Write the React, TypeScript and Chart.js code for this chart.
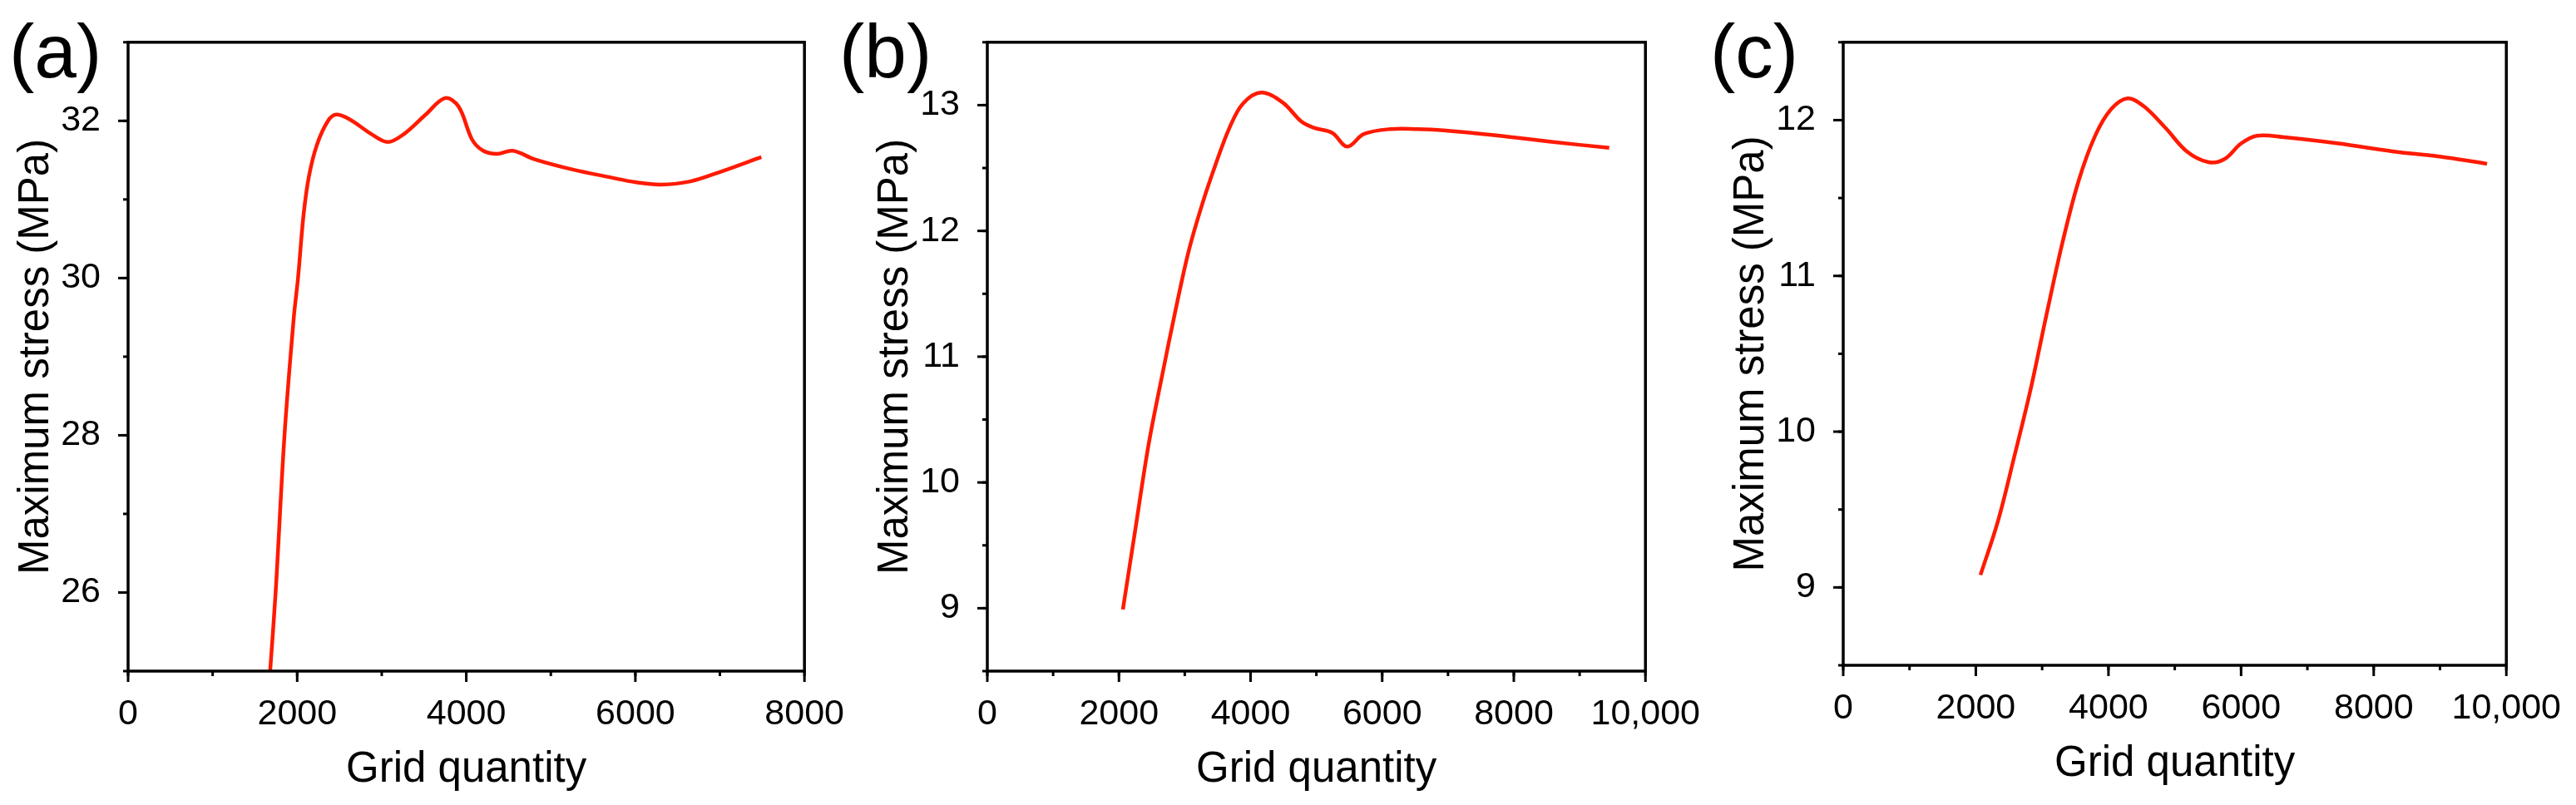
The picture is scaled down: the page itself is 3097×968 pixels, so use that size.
import { useEffect, useRef } from 'react'
import Chart from 'chart.js/auto'

// (a) grid quantity vs maximum stress
const gridA = [1680, 1745, 1850, 1960, 2010, 2075, 2140, 2235, 2365, 2460, 2620, 2880, 3070, 3260, 3520, 3750, 3910, 4070, 4200, 4360, 4550, 4810, 5260, 5710, 6000, 6300, 6650, 7000, 7490]
const stressA = [25.0, 26.0, 28.0, 29.5, 30.0, 30.8, 31.3, 31.7, 32.0, 32.08, 32.02, 31.83, 31.73, 31.83, 32.08, 32.29, 32.18, 31.76, 31.62, 31.58, 31.62, 31.51, 31.38, 31.28, 31.22, 31.19, 31.23, 31.35, 31.54]

// (b)
const gridB = [2060, 2250, 2450, 2660, 2860, 3060, 3270, 3470, 3680, 3880, 4160, 4490, 4770, 4960, 5240, 5470, 5720, 6130, 6530, 6930, 7730, 8540, 9450]
const stressB = [8.99, 9.63, 10.3, 10.86, 11.37, 11.84, 12.22, 12.53, 12.82, 13.01, 13.1, 13.02, 12.87, 12.82, 12.78, 12.67, 12.77, 12.81, 12.81, 12.8, 12.76, 12.71, 12.66]

// (c)
const gridC = [2070, 2330, 2580, 2820, 3060, 3310, 3550, 3800, 4040, 4290, 4530, 4860, 5180, 5510, 5750, 6000, 6240, 6650, 7470, 8280, 9100, 9710]
const stressC = [9.08, 9.42, 9.84, 10.26, 10.74, 11.22, 11.61, 11.9, 12.07, 12.14, 12.09, 11.95, 11.8, 11.73, 11.75, 11.85, 11.9, 11.89, 11.85, 11.8, 11.76, 11.72]

const xTicksA = [0, 2000, 4000, 6000, 8000]
const xTicksBC = [0, 2000, 4000, 6000, 8000, 10000]
const yTicksA = [26, 28, 30, 32]
const yTicksB = [9, 10, 11, 12, 13]
const yTicksC = [9, 10, 11, 12]

const FONT = '"Liberation Sans", Arial, sans-serif'
const RED = '#ff1a00'

const framePlugin = {
  id: 'frame',
  afterDraw(chart: any) {
    const { ctx, chartArea: a, scales } = chart
    const o = chart.options.plugins.frame
    ctx.save()
    ctx.strokeStyle = '#000'
    ctx.lineWidth = 3
    const xs = scales.x
    const ys = scales.y
    const tick = (v: number, len: number, horiz: boolean) => {
      ctx.beginPath()
      if (horiz) {
        const px = xs.getPixelForValue(v)
        ctx.moveTo(px, a.bottom)
        ctx.lineTo(px, a.bottom + len)
      } else {
        const py = ys.getPixelForValue(v)
        ctx.moveTo(a.left, py)
        ctx.lineTo(a.left - len, py)
      }
      ctx.stroke()
    }
    for (let v = xs.min; v <= xs.max + 1e-6; v += o.xMinor) tick(v, 6, true)
    for (let v = ys.min; v <= ys.max + 1e-6; v += o.yMinor) tick(v, 6, false)
    xs.ticks.forEach((t: any) => tick(t.value, 13, true))
    ys.ticks.forEach((t: any) => tick(t.value, 12, false))
    ctx.lineWidth = 3.5
    ctx.strokeRect(a.left, a.top, a.right - a.left, a.bottom - a.top)
    ctx.restore()
  }
}

interface PanelProps {
  left: number
  width: number
  plotTop: number
  plotRight: number
  plotBottom: number
  xs: number[]
  ys: number[]
  xMax: number
  xTicks: number[]
  yMin: number
  yMax: number
  yTicks: number[]
  yMinor: number
  label: string
  labelLeft: number
}

function Panel(p: PanelProps) {
  const ref = useRef<HTMLCanvasElement>(null)
  const height = p.plotBottom + 161

  useEffect(() => {
    if (!ref.current) return
    const chart = new Chart(ref.current, {
      type: 'line',
      data: {
        datasets: [
          {
            data: p.xs.map((x, i) => ({ x, y: p.ys[i] })),
            borderColor: RED,
            borderWidth: 4.5,
            pointRadius: 0,
            tension: 0.35,
            fill: false,
          },
        ],
      },
      options: {
        responsive: false,
        animation: false,
        devicePixelRatio: 1,
        layout: {
          padding: { left: 0, top: p.plotTop, right: p.width - (p.plotRight - p.left), bottom: 0 },
        },
        plugins: {
          legend: { display: false },
          tooltip: { enabled: false },
          frame: { xMinor: 1000, yMinor: p.yMinor },
        } as any,
        scales: {
          x: {
            type: 'linear',
            min: 0,
            max: p.xMax,
            grid: { display: false },
            border: { display: false },
            afterBuildTicks: (s: any) => {
              s.ticks = p.xTicks.map(v => ({ value: v }))
            },
            afterFit: (s: any) => {
              s.height = height - p.plotBottom
            },
            ticks: {
              color: '#000',
              padding: 18,
              maxRotation: 0,
              autoSkip: false,
              font: { family: FONT, size: 43 },
              callback: (v: any) => (v === 10000 ? '10,000' : String(v)),
            },
            title: {
              display: true,
              text: 'Grid quantity',
              color: '#000',
              font: { family: FONT, size: 51, lineHeight: 1 },
              padding: { top: 0, bottom: 17 },
            },
          },
          y: {
            type: 'linear',
            min: p.yMin,
            max: p.yMax,
            grid: { display: false },
            border: { display: false },
            afterBuildTicks: (s: any) => {
              s.ticks = p.yTicks.map(v => ({ value: v }))
            },
            afterFit: (s: any) => {
              s.width = 154
            },
            ticks: {
              color: '#000',
              padding: 25,
              autoSkip: false,
              font: { family: FONT, size: 43 },
              callback: (v: any) => String(v),
            },
            title: {
              display: true,
              text: 'Maximum stress (MPa)',
              color: '#000',
              font: { family: FONT, size: 51, lineHeight: 1 },
              padding: { top: 18, bottom: 0 },
            },
          },
        },
      },
      plugins: [framePlugin],
    })
    return () => chart.destroy()
  }, [])

  return (
    <>
      <canvas
        ref={ref}
        width={p.width}
        height={height}
        style={{ position: 'absolute', left: p.left, top: 0, width: p.width, height }}
      />
      <div
        style={{
          position: 'absolute',
          left: p.labelLeft,
          top: 16,
          fontFamily: FONT,
          fontSize: 91,
          lineHeight: 1,
          color: '#000',
          whiteSpace: 'nowrap',
        }}
      >
        {p.label}
      </div>
    </>
  )
}

export default function App() {
  return (
    <div
      style={{
        position: 'fixed',
        left: 0,
        top: 0,
        width: 3097,
        height: 968,
        background: '#fff',
        overflow: 'hidden',
      }}
    >
      <Panel
        left={0} width={1033} plotTop={34} plotRight={969} plotBottom={807}
        xs={gridA} ys={stressA} xMax={8000} xTicks={xTicksA}
        yMin={25} yMax={33} yTicks={yTicksA} yMinor={1}
        label="(a)" labelLeft={11}
      />
      <Panel
        left={1033} width={1029} plotTop={35} plotRight={2004} plotBottom={807}
        xs={gridB} ys={stressB} xMax={10000} xTicks={xTicksBC}
        yMin={8.5} yMax={13.5} yTicks={yTicksB} yMinor={0.5}
        label="(b)" labelLeft={1009}
      />
      <Panel
        left={2062} width={1035} plotTop={33} plotRight={3026} plotBottom={800}
        xs={gridC} ys={stressC} xMax={10000} xTicks={xTicksBC}
        yMin={8.5} yMax={12.5} yTicks={yTicksC} yMinor={0.5}
        label="(c)" labelLeft={2056}
      />
    </div>
  )
}
